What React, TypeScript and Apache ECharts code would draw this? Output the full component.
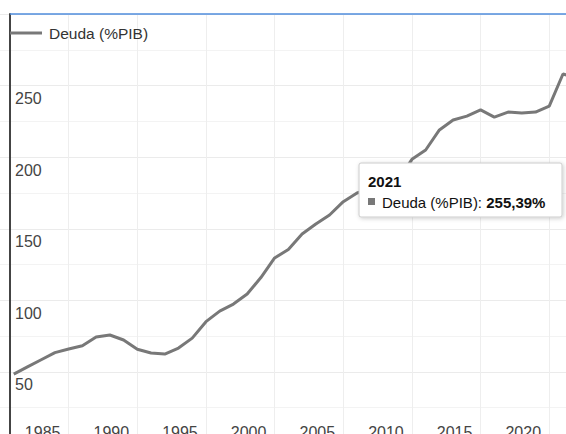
import React, { useEffect, useRef } from "react";
import * as echarts from "echarts";

// Japan public debt (% of GDP), one value per year
const years: number[] = [
  1980, 1981, 1982, 1983, 1984, 1985, 1986, 1987, 1988, 1989,
  1990, 1991, 1992, 1993, 1994, 1995, 1996, 1997, 1998, 1999,
  2000, 2001, 2002, 2003, 2004, 2005, 2006, 2007, 2008, 2009,
  2010, 2011, 2012, 2013, 2014, 2015, 2016, 2017, 2018, 2019,
  2020, 2021,
];
const debt: number[] = [
  48.5, 53.5, 58.5, 63.5, 66.0, 68.3, 74.4, 75.8, 72.3, 65.8,
  63.2, 62.5, 66.7, 73.6, 85.1, 92.5, 97.4, 104.4, 115.9, 129.6,
  135.5, 146.3, 153.3, 159.6, 168.9, 175.0, 178.0, 177.0, 184.0, 198.5,
  205.0, 219.0, 226.0, 228.7, 233.0, 228.0, 231.5, 230.8, 231.5, 235.7,
  258.1, 255.39,
];
const seriesName = "Deuda (%PIB)";
const xTickYears: number[] = [1985, 1990, 1995, 2000, 2005, 2010, 2015, 2020];
const yTickLabels: number[] = [50, 100, 150, 200, 250];

const FONT = "Arial, 'Liberation Sans', Helvetica, sans-serif";
const LINE_COLOR = "#787878";

export default function App() {
  const ref = useRef<HTMLDivElement>(null);

  useEffect(() => {
    if (!ref.current) return;
    const chart = echarts.init(ref.current, undefined, { renderer: "svg" });

    // each yearly value is dated at the end of its year
    const points = years.map((y, i) => [y + 1, debt[i]]);
    const lastYear = years[years.length - 1];
    const lastValue = debt[debt.length - 1];
    const lastValueText = lastValue.toFixed(2).replace(".", ",") + "%";

    chart.setOption({
      animation: false,
      backgroundColor: "#ffffff",
      textStyle: { fontFamily: FONT },
      legend: {
        left: 10,
        top: 25,
        padding: 0,
        icon: "rect",
        itemWidth: 32,
        itemHeight: 3,
        itemGap: 10,
        textStyle: { fontSize: 15.5, color: "#333", fontFamily: FONT, padding: [0, 0, 0, 2] },
        data: [seriesName],
      },
      grid: {
        left: 0,
        top: 14,
        width: 566,
        height: 429.5,
        containLabel: false,
        outerBoundsMode: "none",
      },
      xAxis: {
        type: "value",
        min: 1980,
        max: 2021.22,
        interval: 5,
        axisLine: { show: false },
        axisTick: { show: false },
        splitLine: {
          show: true,
          showMinLine: false,
          showMaxLine: false,
          lineStyle: { color: "#eeeeee", width: 1 },
        },
        axisLabel: {
          inside: true,
          margin: 19,
          verticalAlign: "top",
          lineHeight: 16,
          fontSize: 16,
          color: "#444",
          fontFamily: FONT,
          padding: [0, 52, 0, 0],
          formatter: (v: number) =>
            xTickYears.indexOf(Math.round(v)) >= 0 && Math.abs(v - Math.round(v)) < 1e-6
              ? String(Math.round(v))
              : "",
        },
      },
      yAxis: {
        type: "value",
        min: 0,
        max: 300,
        interval: 50,
        offset: -10,
        axisLine: { show: true, lineStyle: { color: "#444", width: 2 } },
        axisTick: { show: false },
        splitLine: { show: true, lineStyle: { color: "#ebebeb", width: 1 } },
        minorTick: { show: false, splitNumber: 2 },
        minorSplitLine: { show: true, lineStyle: { color: "#f3f3f3", width: 1 } },
        axisLabel: {
          inside: true,
          margin: 5,
          fontSize: 16,
          color: "#444",
          fontFamily: FONT,
          verticalAlign: "top",
          lineHeight: 18,
          padding: [4, 0, 0, 0],
          formatter: (v: number) => (yTickLabels.indexOf(v) >= 0 ? String(v) : ""),
        },
      },
      series: [
        {
          name: seriesName,
          type: "line",
          data: points,
          symbol: "none",
          clip: true,
          z: 2,
          lineStyle: { color: LINE_COLOR, width: 3 },
          itemStyle: { color: LINE_COLOR },
        },
      ],
      graphic: [
        {
          type: "line",
          z: 50,
          shape: { x1: 10, y1: 14, x2: 566, y2: 14 },
          style: { stroke: "#4f8ddc", lineWidth: 1.5 },
        },
        {
          type: "rect",
          z: 100,
          shape: { x: 359, y: 163, width: 203, height: 54, r: 2 },
          style: {
            fill: "#ffffff",
            stroke: "#cccccc",
            lineWidth: 1,
            shadowBlur: 4,
            shadowOffsetX: 1,
            shadowOffsetY: 1,
            shadowColor: "rgba(0,0,0,0.2)",
          },
        },
        {
          type: "text",
          z: 101,
          x: 368,
          y: 181,
          style: {
            text: String(lastYear),
            fontFamily: FONT,
            fontSize: 15,
            fontWeight: "bold",
            fill: "#111",
            verticalAlign: "middle",
          },
        },
        {
          type: "rect",
          z: 101,
          shape: { x: 368, y: 198, width: 7, height: 7 },
          style: { fill: LINE_COLOR },
        },
        {
          type: "text",
          z: 101,
          x: 382,
          y: 202,
          style: {
            text: "{n|" + seriesName + ": }{b|" + lastValueText + "}",
            verticalAlign: "middle",
            rich: {
              n: { fontFamily: FONT, fontSize: 15, fill: "#111" } as any,
              b: { fontFamily: FONT, fontSize: 15, fontWeight: "bold", fill: "#111" } as any,
            },
          },
        },
      ],
    });

    return () => chart.dispose();
  }, []);

  return (
    <div
      ref={ref}
      style={{ position: "fixed", left: 0, top: 0, width: 566, height: 434 }}
    />
  );
}
